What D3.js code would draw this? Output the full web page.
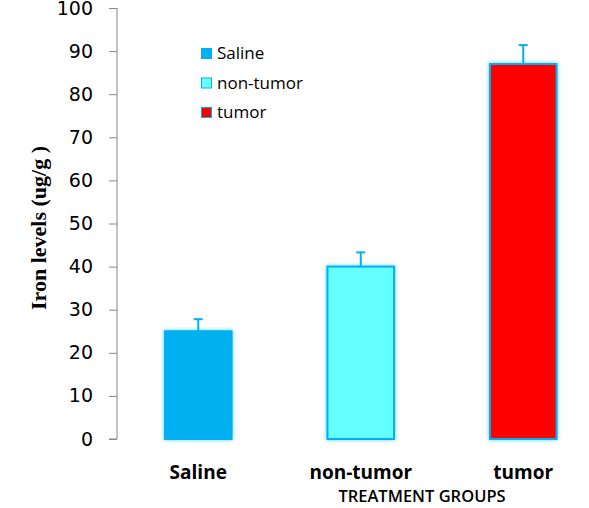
<!DOCTYPE html>
<html><head><meta charset="utf-8">
<script src="https://d3js.org/d3.v7.min.js"></script>
<style>body{margin:0;background:#fff}</style>
</head><body>
<script>
const categories = ["Saline", "non-tumor", "tumor"];
const values = [25, 40, 87];
const errors = [2.8, 3.3, 4.4];
const fills = ["#00B0F0", "#66FFFF", "#FF0000"];
const strokes = ["#00B0F0", "#00B0F0", "#00B0F0"];
const yTicks = [0,10,20,30,40,50,60,70,80,90,100];

const W = 589, H = 508;
const svg = d3.select("body").append("svg").attr("width", W).attr("height", H);
const defs = svg.append("defs");
const f = defs.append("filter").attr("id","glow").attr("x","-20%").attr("y","-20%").attr("width","140%").attr("height","140%");
f.append("feGaussianBlur").attr("in","SourceAlpha").attr("stdDeviation",2).attr("result","b");
f.append("feFlood").attr("flood-color","#00B0F0").attr("flood-opacity",0.6);
f.append("feComposite").attr("in2","b").attr("operator","in").attr("result","g");
const fm = f.append("feMerge");
fm.append("feMergeNode").attr("in","g");
fm.append("feMergeNode").attr("in","SourceGraphic");

const y = d3.scaleLinear().domain([0,100]).range([439, 8]);
const x = d3.scaleBand().domain(categories).range([117, 604.5]).paddingInner(0.59).paddingOuter(0.295);

// y axis
const yAxis = svg.append("g").attr("transform","translate(117,0)")
  .call(d3.axisLeft(y).tickValues(yTicks).tickSize(8).tickPadding(16).tickFormat(d3.format("d")));
yAxis.select(".domain").attr("stroke","#868686").attr("d","M0,"+y(100)+"V"+y(0)+"H-8");
yAxis.selectAll(".tick line").attr("stroke","#868686");
yAxis.selectAll(".tick text").attr("font-family","'DejaVu Sans', sans-serif").attr("font-size",19).attr("fill","#000");

// bars
svg.append("g").selectAll("rect").data(categories).join("rect")
  .attr("x", d => x(d)).attr("width", x.bandwidth())
  .attr("y", (d,i) => y(values[i])).attr("height", (d,i) => y(0) - y(values[i]))
  .attr("fill", (d,i) => fills[i])
  .attr("stroke", (d,i) => strokes[i]).attr("stroke-width", 2)
  .attr("filter","url(#glow)");

// error bars
const eb = svg.append("g").attr("stroke","#00B0F0").attr("stroke-width",2);
categories.forEach((c,i) => {
  const cx = x(c) + x.bandwidth()/2;
  eb.append("line").attr("x1",cx).attr("x2",cx).attr("y1",y(values[i])).attr("y2",y(values[i]+errors[i]));
  eb.append("line").attr("x1",cx-4.5).attr("x2",cx+4.5).attr("y1",y(values[i]+errors[i])).attr("y2",y(values[i]+errors[i]));
});

// category labels
svg.append("g").selectAll("text").data(categories).join("text")
  .attr("x", d => x(d) + x.bandwidth()/2).attr("y", 479)
  .attr("text-anchor","middle").attr("font-family","'Open Sans', sans-serif")
  .attr("font-weight","bold").attr("font-size",19).text(d => d);

svg.append("text").attr("x",422).attr("y",502).attr("text-anchor","middle")
  .attr("font-family","'Open Sans', sans-serif").attr("font-weight",600).attr("font-size",16.5)
  .text("TREATMENT GROUPS");

// y title
svg.append("text").attr("transform","translate(46,228) rotate(-90)").attr("text-anchor","middle")
  .attr("font-family","'Liberation Serif', serif").attr("font-weight","bold").attr("font-size",22)
  .text("Iron levels (ug/g )");

// legend
const lg = svg.append("g");
categories.forEach((c,i) => {
  const yy = 48 + i*29.5;
  lg.append("rect").attr("x",201.5).attr("y",yy+0.5).attr("width",10).attr("height",10)
    .attr("fill",fills[i]).attr("stroke",strokes[i]).attr("stroke-width",1);
  lg.append("text").attr("x",217).attr("y",yy+11).attr("font-family","'Open Sans', sans-serif")
    .attr("font-size",17).text(c);
});
</script>
</body></html>
